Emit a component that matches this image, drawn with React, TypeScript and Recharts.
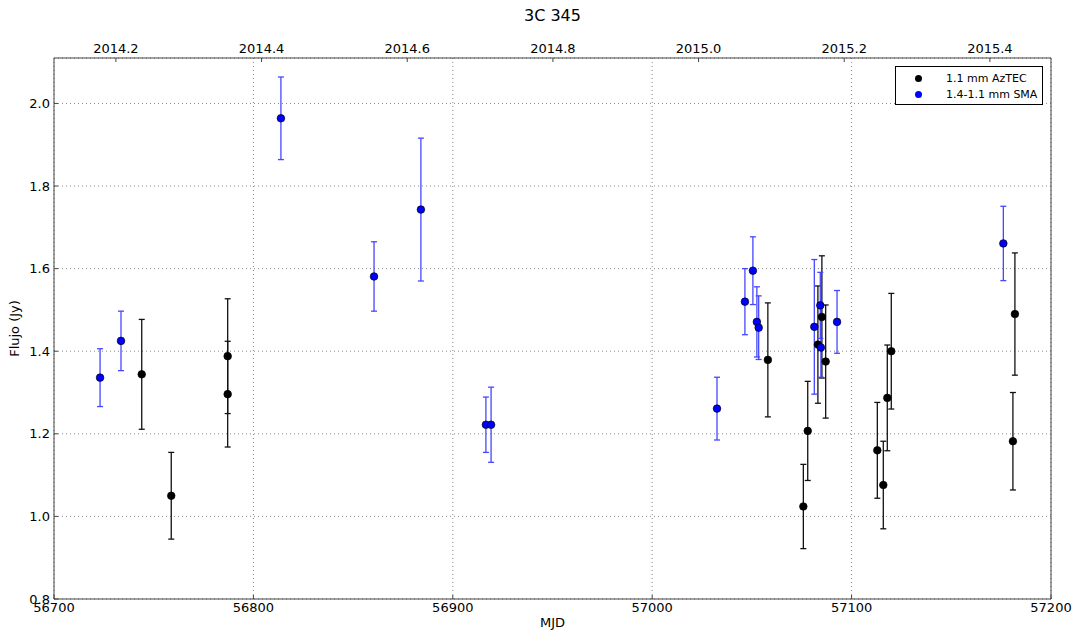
import React from 'react';
import {
  ScatterChart, Scatter, ErrorBar, XAxis, YAxis, CartesianGrid, Legend,
} from 'recharts';

const FONT = '"DejaVu Sans", sans-serif';

// 1.1 mm AzTEC
const aztecMjd = [56744.0, 56758.8, 56787.1, 56787.1, 57058.0, 57075.8, 57078.0, 57083.1, 57085.1, 57087.0, 57112.9, 57115.9, 57117.9, 57119.9, 57181.9, 57180.9];
const aztecFlux = [1.344, 1.050, 1.388, 1.296, 1.379, 1.024, 1.207, 1.416, 1.483, 1.375, 1.160, 1.076, 1.287, 1.400, 1.490, 1.182];
const aztecErr = [0.133, 0.105, 0.139, 0.128, 0.138, 0.102, 0.120, 0.142, 0.148, 0.137, 0.116, 0.106, 0.128, 0.140, 0.148, 0.118];

// 1.4-1.1 mm SMA
const smaMjd = [56723.1, 56733.6, 56813.8, 56860.5, 56884.0, 56916.6, 56919.2, 57032.5, 57046.5, 57050.5, 57052.5, 57053.4, 57081.3, 57084.3, 57084.6, 57092.7, 57176.1];
const smaFlux = [1.336, 1.425, 1.964, 1.581, 1.743, 1.222, 1.222, 1.261, 1.520, 1.595, 1.471, 1.457, 1.459, 1.511, 1.409, 1.471, 1.661];
const smaErr = [0.070, 0.072, 0.100, 0.084, 0.173, 0.067, 0.091, 0.076, 0.080, 0.082, 0.085, 0.077, 0.163, 0.080, 0.072, 0.076, 0.090];

const mjdTicks = [56700, 56800, 56900, 57000, 57100, 57200];
const fluxTicks = [0.8, 1.0, 1.2, 1.4, 1.6, 1.8, 2.0];
const yearTicks = [2014.2, 2014.4, 2014.6, 2014.8, 2015.0, 2015.2, 2015.4];

const series = [
  { name: '1.1 mm AzTEC', color: '#000000', bar: '#111111' },
  { name: '1.4-1.1 mm SMA', color: '#0000ff', bar: '#4646ff' },
];

// decimal year <-> MJD (J2000.0 = MJD 51544.5)
const yearToMjd = (y: number) => 51544.5 + (y - 2000) * 365.25;
const mjdToYear = (m: number) => 2000 + (m - 51544.5) / 365.25;

const aztecData = aztecMjd.map((m, i) => ({ mjd: m, flux: aztecFlux[i], err: aztecErr[i] }));
const smaData = smaMjd.map((m, i) => ({ mjd: m, flux: smaFlux[i], err: smaErr[i] }));

const tickStyle = { fill: '#000', fontSize: 13, fontFamily: FONT };

const Dot = (color: string) => (props: any) => {
  const { cx, cy } = props;
  if (cx == null || cy == null) return null;
  return <circle cx={cx} cy={cy} r={3.8} fill={color} stroke="#000" strokeWidth={0.7} />;
};

const TitleLabel = (props: any) => {
  const { viewBox } = props;
  return (
    <text x={viewBox.x + viewBox.width / 2} y={15} textAnchor="middle" dominantBaseline="central"
      fontFamily={FONT} fontSize={16} fill="#000">3C 345</text>
  );
};

const XLabel = (props: any) => {
  const { viewBox } = props;
  return (
    <text x={viewBox.x + viewBox.width / 2} y={viewBox.y + 23.5} textAnchor="middle" dominantBaseline="central"
      fontFamily={FONT} fontSize={13} fill="#000">MJD</text>
  );
};

const YLabel = (props: any) => {
  const { viewBox } = props;
  const cx = viewBox.x + 14;
  const cy = viewBox.y + viewBox.height / 2;
  return (
    <text x={cx} y={cy} transform={`rotate(-90 ${cx} ${cy})`} textAnchor="middle" dominantBaseline="central"
      fontFamily={FONT} fontSize={13} fill="#000">Flujo (Jy)</text>
  );
};

const LegendBox = () => (
  <div style={{
    border: '1px solid #000', background: '#fff', boxSizing: 'border-box',
    width: 148, height: 39, padding: '3px 0 0 0', fontFamily: FONT, fontSize: 11, color: '#000',
  }}>
    {series.map((s) => (
      <div key={s.name} style={{ display: 'flex', alignItems: 'center', height: 16 }}>
        <span style={{
          display: 'inline-block', width: 7, height: 7, borderRadius: '50%',
          background: s.color, marginLeft: 19, marginRight: 24,
        }} />
        <span>{s.name}</span>
      </div>
    ))}
  </div>
);

const Nothing = () => <g />;

export default function App() {
  return (
    <div style={{ position: 'absolute', left: 0, top: 0, background: '#fff' }}>
      <ScatterChart width={1077} height={635} margin={{ top: 0, right: 25, bottom: 0, left: 0 }}>
        <CartesianGrid stroke="#888" strokeDasharray="1 3" strokeWidth={1} />
        <XAxis
          dataKey="mjd" type="number" domain={[56700, 57200]} ticks={mjdTicks} allowDataOverflow
          height={36} stroke="#444" tickSize={-4} tickMargin={8} tick={tickStyle}
          label={<XLabel />}
        />
        <XAxis
          xAxisId="top" orientation="top" dataKey="mjd" type="number" domain={[56700, 57200]} allowDataOverflow
          ticks={yearTicks.map(yearToMjd)} tickFormatter={(v: number) => mjdToYear(v).toFixed(1)}
          height={58} stroke="#444" tickSize={-4} tickMargin={9} tick={tickStyle}
          label={<TitleLabel />}
        />
        <YAxis
          dataKey="flux" type="number" domain={[0.8, 2.11]} ticks={fluxTicks} allowDataOverflow
          width={54} stroke="#444" tickSize={-4} tickMargin={8} tick={tickStyle}
          tickFormatter={(v: number) => v.toFixed(1)}
          label={<YLabel />}
        />
        <YAxis
          yAxisId="right" orientation="right" dataKey="flux" type="number" domain={[0.8, 2.11]} ticks={fluxTicks}
          allowDataOverflow width={1} stroke="#444" tickSize={-4} tick={false}
        />
        <Legend
          layout="horizontal" verticalAlign="middle" align="center"
          wrapperStyle={{ top: 66, left: 895, width: 148, height: 39 }}
          content={<LegendBox />}
        />
        {/* invisible series that binds the year axis (top) and the mirrored right axis */}
        <Scatter xAxisId="top" yAxisId="right" data={smaData} shape={<Nothing />}
          legendType="none" isAnimationActive={false} />
        <Scatter name={series[0].name} data={aztecData} fill={series[0].color}
          shape={Dot(series[0].color)} isAnimationActive={false}>
          <ErrorBar dataKey="err" direction="y" width={3} stroke={series[0].bar} strokeWidth={1.3}
            isAnimationActive={false} />
        </Scatter>
        <Scatter name={series[1].name} data={smaData} fill={series[1].color}
          shape={Dot(series[1].color)} isAnimationActive={false}>
          <ErrorBar dataKey="err" direction="y" width={3} stroke={series[1].bar} strokeWidth={1.3}
            isAnimationActive={false} />
        </Scatter>
      </ScatterChart>
    </div>
  );
}
